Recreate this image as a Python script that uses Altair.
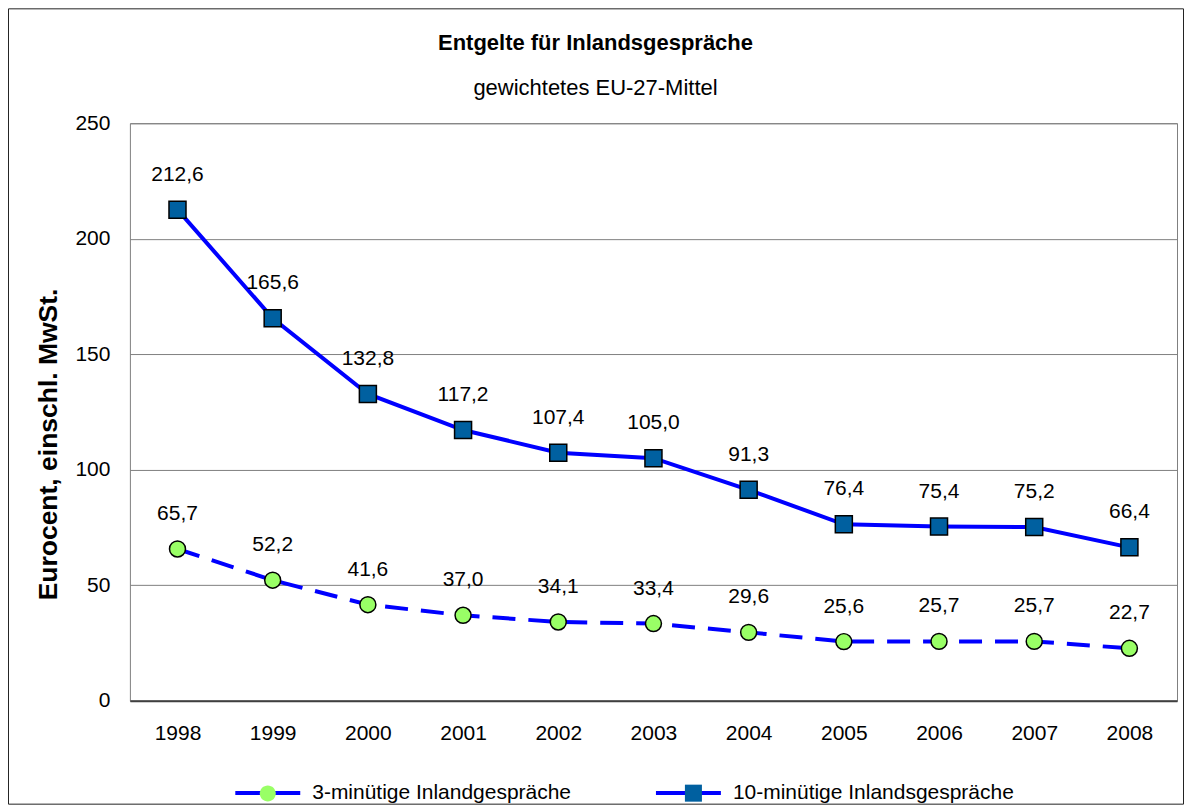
import altair as alt
import pandas as pd

# ---- data ----
years = ["1998", "1999", "2000", "2001", "2002", "2003", "2004", "2005", "2006", "2007", "2008"]
ten_min = [212.6, 165.6, 132.8, 117.2, 107.4, 105.0, 91.3, 76.4, 75.4, 75.2, 66.4]
three_min = [65.7, 52.2, 41.6, 37.0, 34.1, 33.4, 29.6, 25.6, 25.7, 25.7, 22.7]
label_3 = "3-minütige Inlandgespräche"
label_10 = "10-minütige Inlandsgespräche"
y_ticks = [0, 50, 100, 150, 200, 250]

rows = []
for yr, v in zip(years, three_min):
    rows.append({"Jahr": yr, "Wert": v, "Serie": label_3, "Marker": "m3",
                 "Text": f"{v:.1f}".replace(".", ",")})
for yr, v in zip(years, ten_min):
    rows.append({"Jahr": yr, "Wert": v, "Serie": label_10, "Marker": "m10",
                 "Text": f"{v:.1f}".replace(".", ",")})
df = pd.DataFrame(rows)

FONT = "Liberation Sans"
W, H = 1048, 578
SYM = 4225  # 65px symbol box
CIRCLE = "M0.246,0A0.246,0.246,0,1,1,-0.246,0A0.246,0.246,0,1,1,0.246,0Z"
SQUARE = "M-0.262,-0.262H0.262V0.262H-0.262Z"

x_enc = alt.X("Jahr:O", sort=years, scale=alt.Scale(type="point", padding=0.5),
              axis=alt.Axis(title=None, labelAngle=0, labelFontSize=21, labelColor="black",
                            labelFont=FONT, labelPadding=22, ticks=False,
                            domainColor="#404040", domainWidth=2, grid=False))
y_enc = alt.Y("Wert:Q", scale=alt.Scale(domain=[0, 250], nice=False),
              axis=alt.Axis(values=y_ticks, title="Eurocent, einschl. MwSt.",
                            titleFontSize=26.5, titleFontWeight="bold", titleFont=FONT,
                            titleColor="black", titleAngle=270, titleX=-73, titleY=321,
                            titleAlign="center", titleBaseline="alphabetic",
                            labelFontSize=21, labelFont=FONT, labelColor="black",
                            labelPadding=20, ticks=False, domain=False, grid=True,
                            gridColor="#808080", gridWidth=1))

line_legend = alt.Legend(orient="none", legendX=103.5, legendY=635.5, direction="horizontal",
                         title=None, symbolType="stroke", symbolSize=SYM, symbolStrokeWidth=4,
                         symbolDash=[1, 0], labelFontSize=21, labelFont=FONT, labelColor="black",
                         labelOffset=10, labelLimit=0, columnPadding=76, padding=0)
color_scale = alt.Scale(domain=[label_3, label_10], range=["#0000FF", "#0000FF"])
color_enc = alt.Color("Serie:N", scale=color_scale, legend=line_legend)
color_enc_nolegend = alt.Color("Serie:N", scale=color_scale, legend=None)

# marker legend sits on top of the line legend; its labels are empty,
# the column padding stands in for the width of the first label
marker_legend = alt.Legend(orient="none", legendX=103.5, legendY=636.5, direction="horizontal",
                           title=None, symbolSize=SYM, symbolStrokeColor="black",
                           symbolStrokeWidth=1.5, symbolOffset=1, labelExpr="''",
                           labelFontSize=21, labelFont=FONT, labelOpacity=0, labelLimit=0,
                           labelOffset=12, columnPadding=346, padding=0)

frame = alt.Chart(pd.DataFrame({"k": [0]})).mark_rect(
    fill="white", fillOpacity=0, stroke="#222222", strokeWidth=1
).encode(x=alt.value(-121.5), x2=alt.value(1054.5), y=alt.value(-114.5), y2=alt.value(681.5))

line10 = alt.Chart(df).transform_filter(alt.datum.Marker == "m10").mark_line(
    strokeWidth=4).encode(x=x_enc, y=y_enc, color=color_enc)
line3 = alt.Chart(df).transform_filter(alt.datum.Marker == "m3").mark_line(
    strokeWidth=4, strokeDash=[23, 13]).encode(x=x_enc, y=y_enc, color=color_enc_nolegend)

points = alt.Chart(df).mark_point(filled=True, size=SYM, stroke="black", strokeWidth=1.5,
                                  opacity=1).encode(
    x=x_enc, y=y_enc,
    shape=alt.Shape("Marker:N", scale=alt.Scale(domain=["m3", "m10"], range=[CIRCLE, SQUARE]),
                    legend=marker_legend),
    fill=alt.Fill("Marker:N", scale=alt.Scale(domain=["m3", "m10"],
                                              range=["#99FF66", "#0060A0"]),
                  legend=marker_legend),
)

labels = alt.Chart(df).mark_text(dy=-35, fontSize=21, font=FONT, color="black",
                                 baseline="middle").encode(x=x_enc, y=y_enc, text="Text:N")

chart = alt.layer(frame, line10, line3, points, labels).properties(
    width=W, height=H,
    autosize=alt.AutoSizeParams(type="none"),
    padding={"left": 122, "top": 115, "right": 7, "bottom": 104},
    title=alt.TitleParams(text="Entgelte für Inlandsgespräche",
                          subtitle="gewichtetes EU-27-Mittel",
                          fontSize=22, fontWeight="bold", font=FONT, color="black",
                          subtitleFontSize=22, subtitleFont=FONT, subtitleColor="black",
                          subtitlePadding=23, anchor="middle", frame="group",
                          dx=-58, offset=-92),
).configure(font=FONT).configure_view(stroke="#808080", strokeWidth=1)

chart.save("out.html", embed_options={"renderer": "svg", "actions": False})
